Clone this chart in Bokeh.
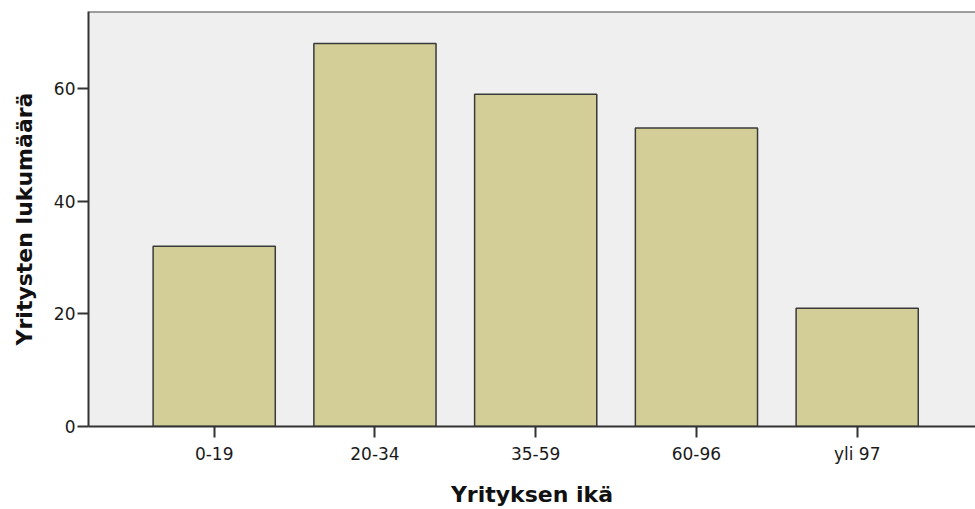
from bokeh.plotting import figure
from bokeh.models import Range1d, FixedTicker, Span, ColumnDataSource
from bokeh.embed import file_html
from bokeh.resources import INLINE

categories = ["0-19", "20-34", "35-59", "60-96", "yli 97"]
counts = [32, 68, 59, 53, 21]
y_ticks = [0, 20, 40, 60]
positions = list(range(len(categories)))

src = ColumnDataSource(dict(x=positions, top=counts, label=categories))

p = figure(width=975, height=509, output_backend="svg", toolbar_location=None,
           x_range=Range1d(-0.782, 4.736), y_range=Range1d(0, 73.7),
           min_border_left=88, min_border_right=0, min_border_top=11, min_border_bottom=82)

p.vbar(x="x", top="top", width=0.76, source=src, fill_color="#d3ce97",
       line_color="#3a3a3a", line_width=1.5)

p.background_fill_color = "#efefef"
p.border_fill_color = "white"
p.outline_line_color = None
p.xgrid.visible = False
p.ygrid.visible = False

p.add_layout(Span(location=73.7, dimension="width", line_color="#4a4a4a", line_width=2))

font = "DejaVu Sans"
for ax in (p.xaxis[0], p.yaxis[0]):
    ax.axis_line_color = "#333333"
    ax.axis_line_width = 2
    ax.major_tick_line_color = "#333333"
    ax.major_tick_line_width = 2
    ax.major_tick_out = 11
    ax.major_tick_in = 0
    ax.minor_tick_line_color = None
    ax.major_label_text_font = font
    ax.major_label_text_font_size = "17px"
    ax.major_label_text_color = "#1a1a1a"
    ax.axis_label_text_font = font
    ax.axis_label_text_font_style = "bold"
    ax.axis_label_text_font_size = "22px"
    ax.axis_label_text_color = "#111111"

p.xaxis.ticker = FixedTicker(ticks=positions)
p.xaxis.major_label_overrides = {i: c for i, c in enumerate(categories)}
p.xaxis.axis_label = "Yrityksen ikä"
p.xaxis.major_label_standoff = 6
p.xaxis.axis_label_standoff = 15

p.yaxis.ticker = FixedTicker(ticks=y_ticks)
p.yaxis.axis_label = "Yritysten lukumäärä"
p.yaxis.major_label_standoff = 2
p.yaxis.axis_label_standoff = 14

open("out.html", "w").write(file_html(p, INLINE))
